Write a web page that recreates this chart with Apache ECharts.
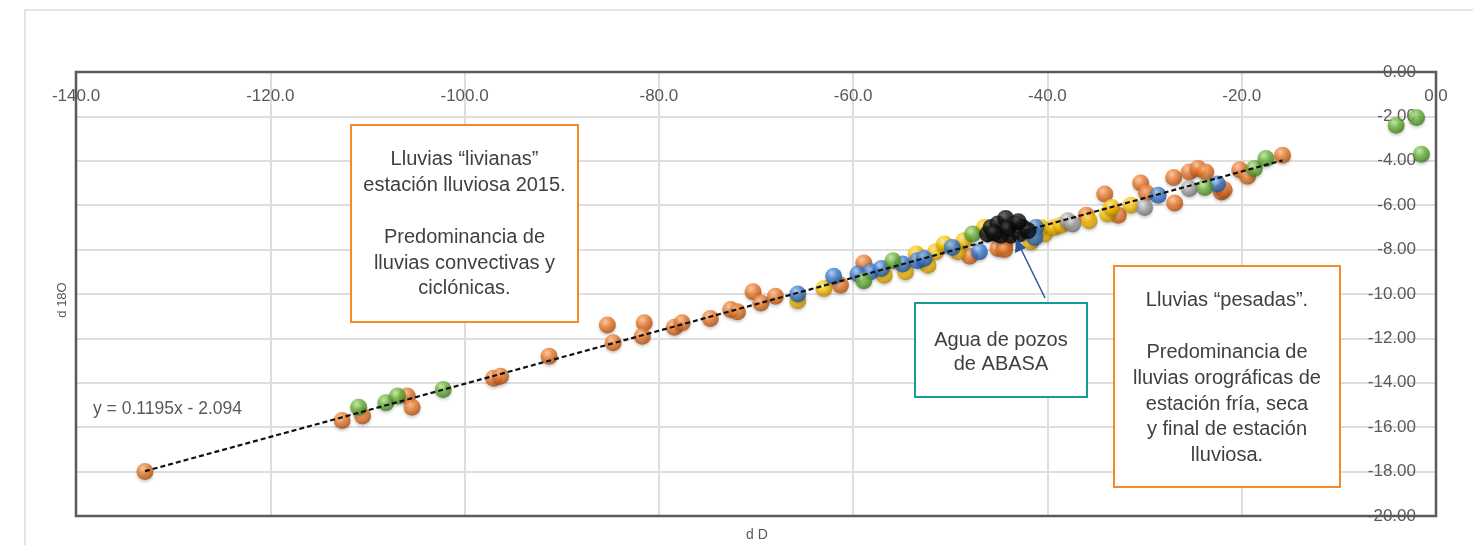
<!DOCTYPE html>
<html>
<head>
<meta charset="utf-8">
<script src="https://cdn.jsdelivr.net/npm/echarts@6/dist/echarts.min.js"></script>
<style>
  html, body { margin: 0; padding: 0; background: #fff; }
  #chart { width: 1473px; height: 545px; }
</style>
</head>
<body>
<div id="chart"></div>
<script>
// axis ticks
const xTicks = { min: -140, max: 0, interval: 20 };
const yTicks = { min: -20, max: 0, interval: 2 };

// d D / d 18O pairs
const orangePts = [
  [-132.9, -18.0], [-112.6, -15.7], [-110.5, -15.5], [-105.9, -14.6], [-105.4, -15.1],
  [-97.0, -13.8], [-96.3, -13.7], [-91.3, -12.8], [-85.3, -11.4], [-84.7, -12.2],
  [-81.5, -11.3], [-81.7, -11.9], [-78.4, -11.5], [-77.6, -11.3], [-74.7, -11.1],
  [-72.6, -10.7], [-71.9, -10.8], [-70.3, -9.9], [-69.5, -10.4], [-68.0, -10.1],
  [-61.3, -9.6], [-58.9, -8.6], [-48.0, -8.3], [-45.1, -7.95], [-44.4, -7.8], [-44.4, -8.0],
  [-36.0, -6.45], [-34.1, -5.5], [-32.7, -6.45], [-30.4, -5.0], [-29.8, -5.45],
  [-26.9, -5.9], [-27.0, -4.75], [-25.4, -4.5], [-24.5, -4.35], [-23.7, -4.5],
  [-22.1, -5.4], [-21.8, -5.3], [-20.2, -4.4], [-19.4, -4.7], [-15.8, -3.75]
];
const greenPts = [
  [-110.9, -15.1], [-108.1, -14.9], [-106.9, -14.6], [-102.2, -14.3],
  [-58.9, -9.4], [-55.9, -8.5], [-47.7, -7.3], [-23.8, -5.2],
  [-18.7, -4.35], [-17.5, -3.9], [-4.1, -2.4], [-2.0, -2.05], [-1.5, -3.7]
];
const yellowPts = [
  [-65.7, -10.3], [-63.0, -9.75], [-56.8, -9.15], [-54.6, -9.0], [-53.5, -8.2],
  [-52.3, -8.7], [-51.5, -8.1], [-50.6, -7.75], [-49.2, -8.1], [-48.6, -7.6],
  [-46.5, -7.0], [-41.7, -7.65], [-40.3, -7.3], [-40.65, -7.0], [-39.3, -7.0],
  [-38.6, -6.9], [-35.7, -6.7], [-33.8, -6.4], [-33.4, -6.1], [-31.4, -6.0]
];
const grayPts = [[-37.9, -6.7], [-37.4, -6.85], [-30.0, -6.1], [-25.4, -5.25]];
const bluePts = [
  [-65.7, -10.0], [-62.0, -9.2], [-59.5, -9.1], [-58.2, -9.0], [-57.1, -8.85],
  [-54.9, -8.65], [-53.4, -8.5], [-52.7, -8.4], [-49.8, -7.9], [-47.0, -8.1],
  [-41.2, -7.0], [-41.3, -7.45], [-28.6, -5.55], [-22.5, -5.05]
];
const blackPts = [
  [-46.15, -7.3], [-45.8, -7.0], [-45.1, -6.85], [-44.3, -6.6], [-43.4, -6.85],
  [-42.55, -7.0], [-44.8, -7.35], [-43.75, -7.35], [-42.9, -7.3], [-42.0, -7.15], [-44.1, -7.05],
  [-45.5, -7.25], [-43.0, -6.75]
];
// trendline end points: y = 0.1195x - 2.094
const trendPts = [[-132.9, -17.98], [-15.8, -3.98]];

const FONT = '"Liberation Sans", Arial, sans-serif';

function sphere(light, base, dark) {
  return new echarts.graphic.RadialGradient(0.38, 0.32, 0.7, [
    { offset: 0, color: light },
    { offset: 0.45, color: base },
    { offset: 1, color: dark }
  ]);
}

function dots(name, data, light, base, dark) {
  return {
    name: name,
    type: 'scatter',
    data: data,
    symbolSize: 17,
    itemStyle: { color: sphere(light, base, dark), shadowColor: 'rgba(0,0,0,0.25)', shadowBlur: 3, shadowOffsetY: 2 }
  };
}

const chart = echarts.init(document.getElementById('chart'));
chart.setOption({
  animation: false,
  grid: { left: 76, top: 72, right: 37, bottom: 29 },
  xAxis: {
    type: 'value', position: 'top',
    min: xTicks.min, max: xTicks.max, interval: xTicks.interval,
    axisLine: { show: false }, axisTick: { show: false },
    axisLabel: { inside: true, margin: 16, color: '#595959', fontSize: 17, fontFamily: FONT,
      showMinLabel: true, showMaxLabel: true, formatter: v => v.toFixed(1) },
    splitLine: { lineStyle: { color: '#dedede', width: 2 } }
  },
  yAxis: {
    type: 'value', position: 'right',
    min: yTicks.min, max: yTicks.max, interval: yTicks.interval,
    axisLine: { show: false }, axisTick: { show: false },
    axisLabel: { inside: true, margin: 20, color: '#595959', fontSize: 17, fontFamily: FONT,
      showMinLabel: true, showMaxLabel: true, formatter: v => v.toFixed(2) },
    splitLine: { lineStyle: { color: '#dedede', width: 2 } }
  },
  series: [
    dots('orange', orangePts, '#ffc79c', '#ee7d2e', '#a84a0e'),
    dots('yellow', yellowPts, '#fff0a0', '#ffc600', '#b38300'),
    dots('gray', grayPts, '#eeeeee', '#a8a8a8', '#6a6a6a'),
    dots('blue', bluePts, '#a9cdf7', '#3d7fd6', '#1f4e95'),
    dots('green', greenPts, '#c6ec9e', '#6cb43c', '#3c7a1a'),
    dots('black', blackPts, '#555555', '#111111', '#000000'),
    {
      name: 'trend', type: 'line', data: trendPts, symbol: 'none', silent: true,
      lineStyle: { color: '#111', width: 2.2, type: [5, 3] }, z: 5
    }
  ],
  graphic: [
    { type: 'rect', shape: { x: 25, y: 10, width: 1460, height: 560 }, style: { fill: 'none', stroke: '#dcdcdc', lineWidth: 1.5 }, z: -10 },
    { type: 'rect', shape: { x: 76, y: 72, width: 1360, height: 444 }, style: { fill: 'none', stroke: '#5a5a5a', lineWidth: 2.5 }, z: 8 },
    { type: 'text', x: 62, y: 300, rotation: Math.PI / 2,
      style: { text: 'd 18O', font: '13px ' + FONT, fill: '#595959', align: 'center', verticalAlign: 'middle' } },
    { type: 'text', x: 757, y: 535,
      style: { text: 'd D', font: '14px ' + FONT, fill: '#595959', align: 'center', verticalAlign: 'middle' } },
    { type: 'text', x: 93, y: 409,
      style: { text: 'y = 0.1195x - 2.094', font: '17.5px ' + FONT, fill: '#595959', align: 'left', verticalAlign: 'middle' }, z: 10 },
    // left annotation
    { type: 'rect', shape: { x: 351, y: 125, width: 227, height: 197 },
      style: { fill: '#fff', stroke: '#f58a2a', lineWidth: 2 }, z: 20 },
    { type: 'text', x: 464.5, y: 147, z: 21,
      style: { text: 'Lluvias “livianas”\nestación lluviosa 2015.\n\nPredominancia de\nlluvias convectivas y\nciclónicas.',
        font: '20px ' + FONT, lineHeight: 25.8, fill: '#404040', align: 'center', verticalAlign: 'top' } },
    // right annotation
    { type: 'rect', shape: { x: 1114, y: 266, width: 226, height: 221 },
      style: { fill: '#fff', stroke: '#f58a2a', lineWidth: 2 }, z: 20 },
    { type: 'text', x: 1227, y: 288, z: 21,
      style: { text: 'Lluvias “pesadas”.\n\nPredominancia de\nlluvias orográficas de\nestación fría, seca\ny final de estación\nlluviosa.',
        font: '20px ' + FONT, lineHeight: 25.8, fill: '#404040', align: 'center', verticalAlign: 'top' } },
    // wells annotation
    { type: 'rect', shape: { x: 915, y: 303, width: 172, height: 94 },
      style: { fill: '#fff', stroke: '#169b98', lineWidth: 2 }, z: 20 },
    { type: 'text', x: 1001, y: 328, z: 21,
      style: { text: 'Agua de pozos\nde ABASA', font: '20px ' + FONT, lineHeight: 24.5, fill: '#404040', align: 'center', verticalAlign: 'top' } },
    { type: 'line', shape: { x1: 1045, y1: 298, x2: 1021, y2: 249 }, style: { stroke: '#2f5597', lineWidth: 1.5 }, z: 22 },
    { type: 'polygon', shape: { points: [[1016, 239], [1015, 253], [1026, 248]] }, style: { fill: '#2f5597' }, z: 22 }
  ]
});
</script>
</body>
</html>
